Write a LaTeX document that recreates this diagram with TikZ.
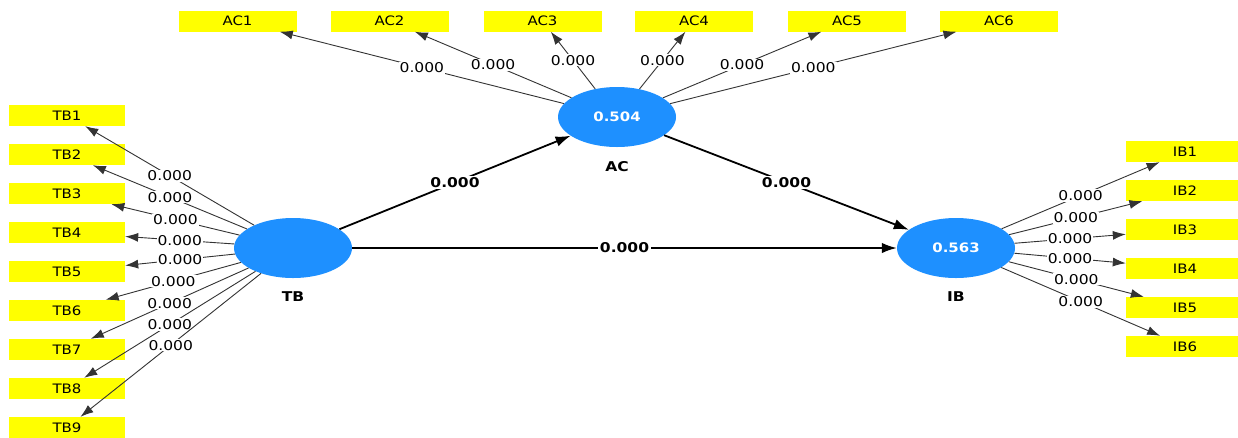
\documentclass[tikz,border=0pt]{standalone}
\usepackage{fontspec}
\setmainfont{DejaVu Sans}[FakeStretch=1.15]
\usetikzlibrary{arrows.meta,shapes.geometric}
\definecolor{lvblue}{RGB}{30,144,255}
\definecolor{indyellow}{RGB}{255,255,0}

\begin{document}
\begin{tikzpicture}[x=1pt,y=-1pt,
  construct/.style={ellipse, fill=lvblue, minimum width=118, minimum height=60,
    inner sep=0, text=white, font=\bfseries\fontsize{13}{15}\selectfont},
  cname/.style={font=\bfseries\fontsize{13.5}{15}\selectfont},
  indicator/.style={fill=indyellow, minimum width=116, minimum height=21,
    inner sep=0, font=\fontsize{13}{15}\selectfont},
  loading/.style={draw=black!80, line width=0.9pt,
    -{Latex[length=13pt,width=9pt]}},
  path/.style={draw=black, line width=1.8pt,
    -{Latex[length=15pt,width=10.5pt]}},
  lw/.style={midway, fill=white, inner sep=1pt, font=\fontsize{13.5}{15}\selectfont},
  pw/.style={midway, fill=white, inner sep=1.5pt, font=\bfseries\fontsize{13.5}{15}\selectfont},
]
\clip (0,0) rectangle (1238,437);
\fill[white] (0,0) rectangle (1238,437);

% latent constructs
\node[construct] (TB) at (293,248) {};
\node[construct] (AC) at (617,117) {0.504};
\node[construct] (IB) at (956,248) {0.563};
\node[cname] (TBn) at (293,297) {TB};
\node[cname] (ACn) at (617,167) {AC};
\node[cname] (IBn) at (956,297) {IB};

% indicators of TB
\foreach \i in {1,...,9}
  \node[indicator] (TB\i) at (67,{115.5+39*(\i-1)}) {TB\i};
% indicators of AC
\foreach \i/\x in {1/237.5,2/389.5,3/542.5,4/694,5/847,6/999}
  \node[indicator, minimum width=118] (AC\i) at (\x,21) {AC\i};
% indicators of IB
\foreach \i in {1,...,6}
  \node[indicator, minimum width=118] (IB\i) at (1185,{151.5+39*(\i-1)}) {IB\i};

% outer loadings
\foreach \i in {1,...,9}
  \draw[loading] (TB) -- node[lw] {0.000} (TB\i);
\foreach \i in {1,...,6}
  \draw[loading] (AC) -- node[lw] {0.000} (AC\i);
\foreach \i in {1,...,6}
  \draw[loading] (IB) -- node[lw] {0.000} (IB\i);

% structural paths
\draw[path] (TB) -- node[pw] {0.000} (AC);
\draw[path] (AC) -- node[pw] {0.000} (IB);
\draw[path] (TB) -- node[pw] {0.000} (IB);
\end{tikzpicture}
\end{document}
